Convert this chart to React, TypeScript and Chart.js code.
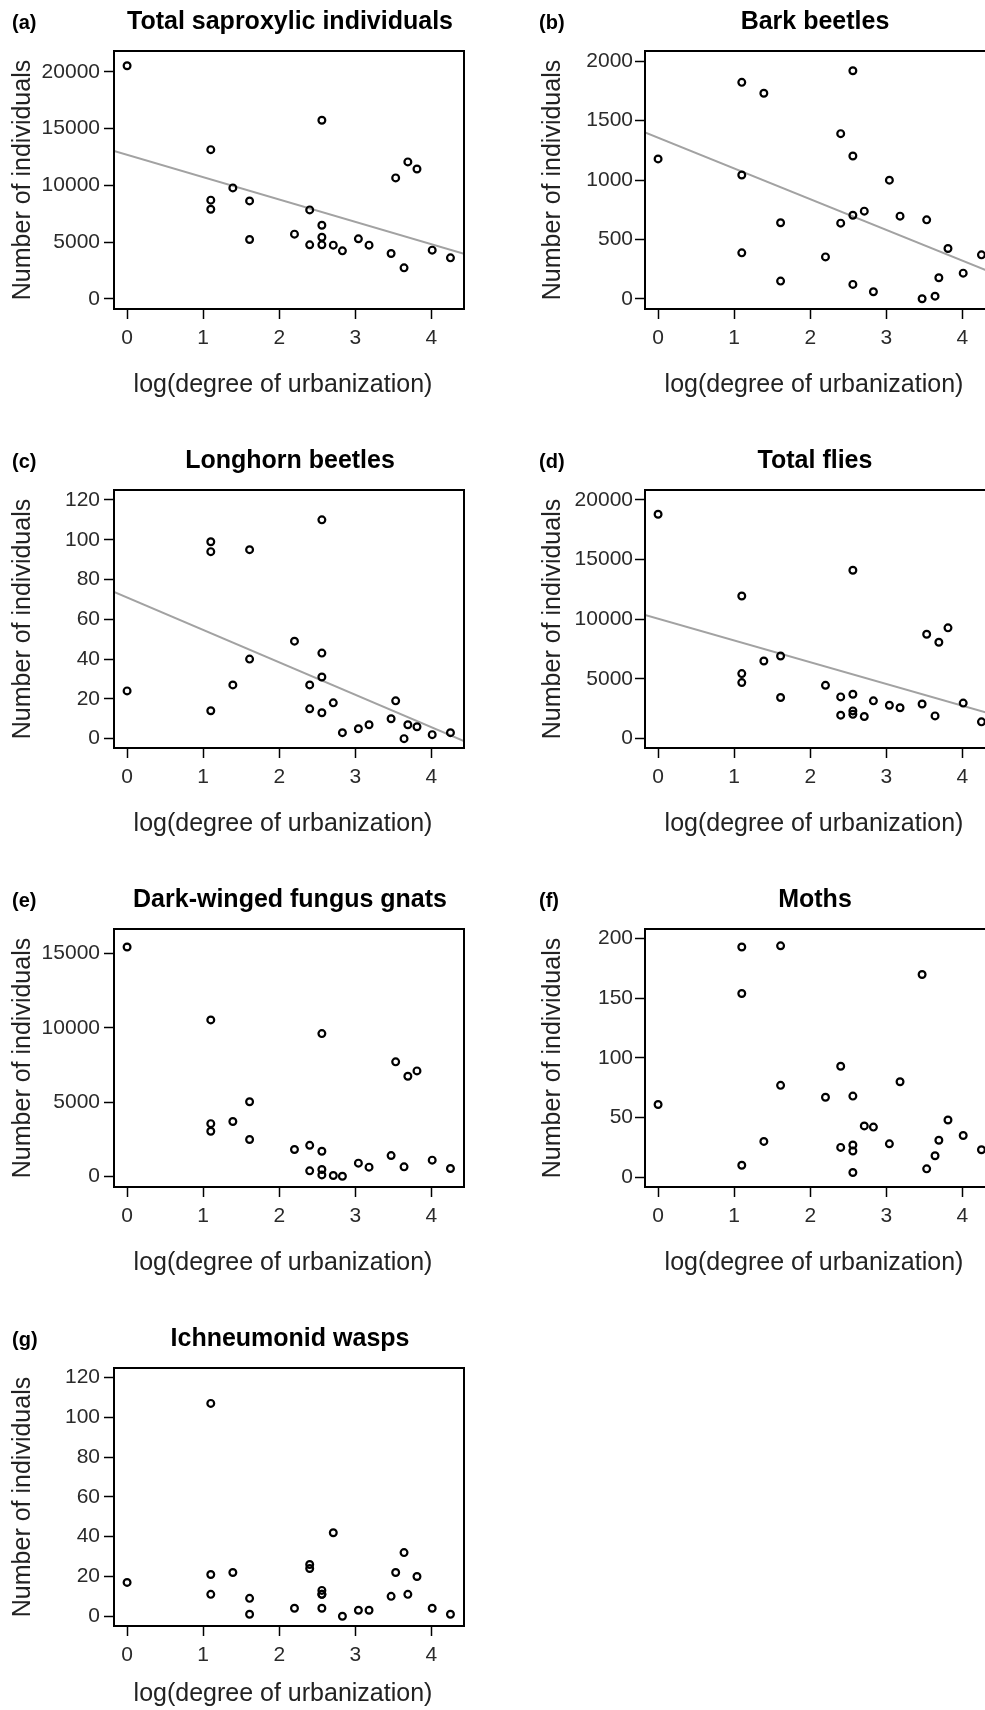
import React, { useEffect, useRef } from "react";
import { Chart, registerables } from "chart.js";

Chart.register(...registerables);

const FONT = '"Liberation Sans", Arial, Helvetica, sans-serif';

// log(degree of urbanization) of the 25 sites (shared by every panel)
const X_LOG_URBAN = [
  0, 1.1, 1.1, 1.1, 1.39, 1.61, 1.61, 2.2, 2.4, 2.4, 2.56, 2.56, 2.56, 2.56,
  2.71, 2.83, 3.04, 3.18, 3.47, 3.53, 3.64, 3.69, 3.81, 4.01, 4.25,
];
const X_TICKS = [0, 1, 2, 3, 4];
const X_MIN = -0.172;
const X_MAX = 4.428;
const X_TITLE = "log(degree of urbanization)";
const Y_TITLE = "Number of individuals";

// Series values (number of individuals), in the site order of X_LOG_URBAN
const TOTAL_SAPROXYLIC = [
  20550, 13150, 8700, 7900, 9780, 8630, 5230, 5700, 7840, 4760, 15740, 6490,
  5430, 4760, 4730, 4230, 5290, 4730, 3990, 10660, 2730, 12070, 11450, 4290,
  3610,
];
const BARK_BEETLES = [
  1178, 1823, 1043, 387, 1731, 640, 149, 353, 1391, 637, 1921, 1203, 704, 121,
  738, 59, 999, 696, 0, 665, 22, 177, 424, 216, 370,
];
const LONGHORN_BEETLES = [
  24, 99, 94, 14, 27, 95, 40, 49, 27, 15, 110, 43, 31, 13, 18, 3, 5, 7, 10, 19,
  0, 7, 6, 2, 3,
];
const TOTAL_FLIES = [
  18780, 11940, 5440, 4690, 6500, 6910, 3440, 4460, 3490, 1960, 14090, 3710,
  2320, 2030, 1850, 3160, 2790, 2580, 2900, 8740, 1900, 8070, 9270, 2970, 1400,
];
const FUNGUS_GNATS = [
  15450, 10540, 3560, 3050, 3700, 5030, 2490, 1820, 2100, 380, 9620, 1700, 470,
  110, 70, 20, 900, 630, 1410, 7720, 650, 6750, 7110, 1100, 540,
];
const MOTHS = [
  61, 193, 154, 10, 30, 194, 77, 67, 93, 25, 68, 27, 22, 4, 43, 42, 28, 80, 170,
  7, 18, 31, 48, 35, 23,
];
const ICHNEUMONID_WASPS = [
  17, 107, 21, 11, 22, 9, 1, 4, 26, 24, 13, 11, 11, 4, 42, 0, 3, 3, 10, 22, 32,
  11, 20, 4, 1,
];

// Y tick labels
const Y_TICKS_20000 = [0, 5000, 10000, 15000, 20000];
const Y_TICKS_2000 = [0, 500, 1000, 1500, 2000];
const Y_TICKS_120 = [0, 20, 40, 60, 80, 100, 120];
const Y_TICKS_15000 = [0, 5000, 10000, 15000];
const Y_TICKS_200 = [0, 50, 100, 150, 200];

// Fitted regression lines (intercept, slope)
const FIT_TOTAL_SAPROXYLIC = { intercept: 12700, slope: -1973 };
const FIT_BARK_BEETLES = { intercept: 1357, slope: -259 };
const FIT_LONGHORN_BEETLES = { intercept: 71, slope: -16.3 };
const FIT_TOTAL_FLIES = { intercept: 10030, slope: -1820 };

type Fit = { intercept: number; slope: number };
type Panel = {
  letter: string;
  title: string;
  values: number[];
  yTicks: number[];
  yMin: number;
  yMax: number;
  fit?: Fit;
  col: number;
  row: number;
  xTitleBaseline: number;
};

const PANELS: Panel[] = [
  { letter: "(a)", title: "Total saproxylic individuals", values: TOTAL_SAPROXYLIC, yTicks: Y_TICKS_20000, yMin: -899, yMax: 21850, fit: FIT_TOTAL_SAPROXYLIC, col: 0, row: 0, xTitleBaseline: 391.5 },
  { letter: "(b)", title: "Bark beetles", values: BARK_BEETLES, yTicks: Y_TICKS_2000, yMin: -86, yMax: 2087, fit: FIT_BARK_BEETLES, col: 1, row: 0, xTitleBaseline: 391.5 },
  { letter: "(c)", title: "Longhorn beetles", values: LONGHORN_BEETLES, yTicks: Y_TICKS_120, yMin: -4.7, yMax: 125, fit: FIT_LONGHORN_BEETLES, col: 0, row: 1, xTitleBaseline: 391.5 },
  { letter: "(d)", title: "Total flies", values: TOTAL_FLIES, yTicks: Y_TICKS_20000, yMin: -788, yMax: 20813, fit: FIT_TOTAL_FLIES, col: 1, row: 1, xTitleBaseline: 391.5 },
  { letter: "(e)", title: "Dark-winged fungus gnats", values: FUNGUS_GNATS, yTicks: Y_TICKS_15000, yMin: -706, yMax: 16661, col: 0, row: 2, xTitleBaseline: 391.5 },
  { letter: "(f)", title: "Moths", values: MOTHS, yTicks: Y_TICKS_200, yMin: -8.2, yMax: 208.1, col: 1, row: 2, xTitleBaseline: 391.5 },
  { letter: "(g)", title: "Ichneumonid wasps", values: ICHNEUMONID_WASPS, yTicks: Y_TICKS_120, yMin: -4.9, yMax: 124.8, col: 0, row: 3, xTitleBaseline: 384 },
];

const CANVAS_W = 490;
const CANVAS_H = 439;
const COL_OFFSET = 531;

const framePlugin = {
  id: "panelFrame",
  afterDraw(chart: any, _args: any, opts: any) {
    const { ctx, chartArea: a } = chart;
    ctx.save();
    ctx.strokeStyle = "#000";
    ctx.lineWidth = 2;
    ctx.strokeRect(a.left, a.top, a.right - a.left, a.bottom - a.top);
    ctx.fillStyle = "#000";
    ctx.textBaseline = "alphabetic";
    ctx.textAlign = "left";
    ctx.font = `bold 20px ${FONT}`;
    ctx.fillText(opts.letter, opts.letterX, 28.5);
    ctx.textAlign = "center";
    ctx.font = `bold 25px ${FONT}`;
    ctx.fillText(opts.title, (a.left + a.right) / 2 + opts.titleShift, 28.5);
    ctx.fillStyle = "#222";
    ctx.font = `25px ${FONT}`;
    ctx.fillText(X_TITLE, (a.left + a.right) / 2 - 6, opts.xTitleBaseline);
    ctx.restore();
  },
};

function PanelChart({ panel }: { panel: Panel }) {
  const ref = useRef<HTMLCanvasElement | null>(null);

  useEffect(() => {
    const canvas = ref.current;
    if (!canvas) return;
    const right = panel.col === 1;
    const datasets: any[] = [
      {
        type: "scatter",
        data: X_LOG_URBAN.map((x, i) => ({ x, y: panel.values[i] })),
        pointStyle: "circle",
        pointRadius: 3.4,
        pointBorderWidth: 2.2,
        pointBorderColor: "#000",
        pointBackgroundColor: "rgba(255,255,255,0)",
        showLine: false,
        order: 0,
      },
    ];
    if (panel.fit) {
      const f = panel.fit;
      datasets.push({
        type: "line",
        data: [
          { x: X_MIN, y: f.intercept + f.slope * X_MIN },
          { x: X_MAX, y: f.intercept + f.slope * X_MAX },
        ],
        borderColor: "#a2a2a2",
        borderWidth: 2,
        pointRadius: 0,
        fill: false,
        order: 1,
      });
    }
    const chart = new Chart(canvas, {
      type: "scatter",
      data: { datasets },
      options: {
        responsive: false,
        animation: false,
        devicePixelRatio: 1,
        events: [],
        layout: { padding: { left: right ? 7 : 8, top: 51, right: 26, bottom: 0 } },
        plugins: {
          legend: { display: false },
          tooltip: { enabled: false },
          title: { display: false },
          panelFrame: {
            letter: panel.letter,
            title: panel.title,
            letterX: right ? 8 : 12,
            titleShift: right ? -5 : 1,
            xTitleBaseline: panel.xTitleBaseline,
          },
        } as any,
        scales: {
          x: {
            type: "linear",
            position: "bottom",
            min: X_MIN,
            max: X_MAX,
            afterBuildTicks: (s: any) => {
              s.ticks = X_TICKS.map((v) => ({ value: v }));
            },
            afterFit: (s: any) => {
              s.height = 130;
            },
            grid: { display: true, drawOnChartArea: false, drawTicks: true, tickLength: 10, tickWidth: 1.5, tickColor: "#000" },
            border: { display: false },
            ticks: {
              padding: 7,
              color: "#2a2a2a",
              font: { family: FONT, size: 21 },
              maxRotation: 0,
              autoSkip: false,
              callback: (v: any) => String(v),
            },
          },
          y: {
            type: "linear",
            min: panel.yMin,
            max: panel.yMax,
            afterBuildTicks: (s: any) => {
              s.ticks = panel.yTicks.map((v) => ({ value: v }));
            },
            afterFit: (s: any) => {
              s.width = right ? 107 : 106;
            },
            grid: { display: true, drawOnChartArea: false, drawTicks: true, tickLength: 10, tickWidth: 1.5, tickColor: "#000" },
            border: { display: false },
            ticks: {
              padding: right ? 2 : 4,
              color: "#2a2a2a",
              font: { family: FONT, size: 21 },
              autoSkip: false,
              callback: (v: any) => String(v),
            },
            title: {
              display: true,
              text: Y_TITLE,
              color: "#222",
              font: { family: FONT, size: 25 },
              padding: 0,
            },
          },
        },
      } as any,
      plugins: [framePlugin as any],
    });
    return () => chart.destroy();
  }, [panel]);

  return (
    <div
      style={{
        position: "absolute",
        left: panel.col * COL_OFFSET,
        top: panel.row * CANVAS_H,
        width: CANVAS_W,
        height: CANVAS_H,
      }}
    >
      <canvas ref={ref} width={CANVAS_W} height={CANVAS_H} style={{ display: "block", width: CANVAS_W, height: CANVAS_H }} />
    </div>
  );
}

export default function App() {
  return (
    <div
      style={{
        position: "fixed",
        left: 0,
        top: 0,
        width: 985,
        height: 1710,
        overflow: "hidden",
        background: "#fff",
      }}
    >
      {PANELS.map((p) => (
        <PanelChart key={p.letter} panel={p} />
      ))}
    </div>
  );
}
